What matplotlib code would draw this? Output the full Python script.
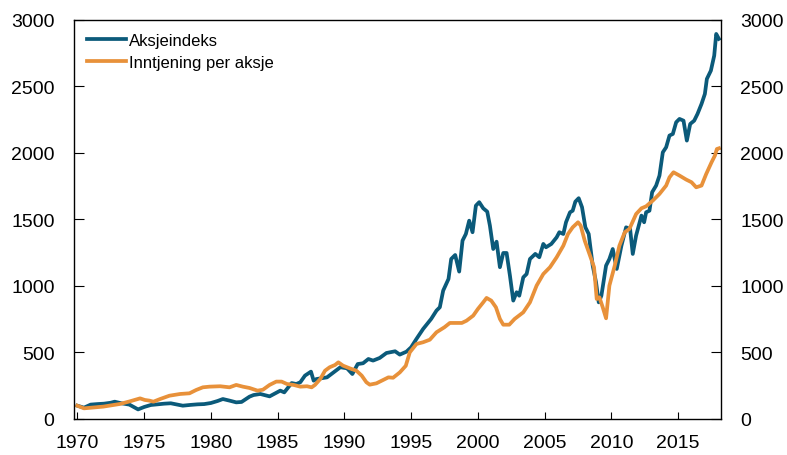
import numpy as np
import matplotlib
matplotlib.use('Agg')
import matplotlib.pyplot as plt

plt.rcParams['font.family'] = ['Liberation Sans', 'DejaVu Sans']

# Aksjeindeks (1970 = 100)
idx_years = [1970.0, 1970.5, 1971.0, 1971.5, 1972.0, 1972.5, 1972.8, 1973.3, 1973.9, 1974.55,
             1975.0, 1975.5, 1976.0, 1976.5, 1977.0, 1977.5, 1977.9, 1978.5, 1979.0, 1979.5,
             1980.0, 1980.5, 1980.9, 1981.4, 1981.9, 1982.3, 1982.9, 1983.2, 1983.7, 1984.4,
             1985.2, 1985.5, 1986.05, 1986.4, 1986.7, 1987.05, 1987.5, 1987.7, 1987.9, 1988.7,
             1989.2, 1989.7, 1990.2, 1990.6, 1991.0, 1991.4, 1991.8, 1992.15, 1992.65, 1993.15,
             1993.8, 1994.15, 1994.65, 1995.0, 1995.4, 1995.9, 1996.5, 1996.9, 1997.15, 1997.4,
             1997.8, 1998.0, 1998.3, 1998.6, 1998.85, 1999.1, 1999.35, 1999.6, 1999.85, 2000.1,
             2000.4, 2000.7, 2000.9, 2001.15, 2001.4, 2001.65, 2001.9, 2002.15, 2002.4, 2002.65,
             2002.9, 2003.1, 2003.4, 2003.65, 2003.9, 2004.3, 2004.6, 2004.9, 2005.1, 2005.5,
             2005.9, 2006.1, 2006.4, 2006.6, 2006.9, 2007.1, 2007.3, 2007.55, 2007.8, 2008.05,
             2008.3, 2008.6, 2008.85, 2009.05, 2009.25, 2009.6, 2009.85, 2010.1, 2010.4, 2010.75,
             2011.1, 2011.4, 2011.6, 2011.85, 2012.25, 2012.45, 2012.6, 2012.85, 2013.05, 2013.35,
             2013.6, 2013.85, 2014.1, 2014.35, 2014.6, 2014.85, 2015.1, 2015.4, 2015.65, 2015.9,
             2016.2, 2016.45, 2016.75, 2017.0, 2017.15, 2017.45, 2017.7, 2017.85, 2018.05]
idx_vals = [100, 85, 108, 112, 115, 122, 130, 118, 108, 72,
            90, 105, 110, 115, 118, 108, 100, 106, 110, 112,
            120, 135, 150, 138, 125, 128, 168, 180, 188, 170,
            213, 200, 270, 263, 276, 326, 356, 288, 300, 313,
            351, 389, 381, 338, 413, 419, 451, 439, 459, 496,
            509, 484, 506, 539, 602, 677, 752, 815, 840, 965,
            1053, 1203, 1233, 1108, 1341, 1391, 1491, 1404, 1604, 1630,
            1584, 1559, 1454, 1278, 1333, 1141, 1248, 1248, 1078, 890,
            953, 927, 1065, 1090, 1203, 1241, 1216, 1316, 1291, 1316,
            1366, 1404, 1391, 1479, 1554, 1566, 1634, 1660, 1592, 1441,
            1391, 1153, 1028, 877, 927, 1153, 1203, 1278, 1128, 1303,
            1441, 1429, 1241, 1379, 1529, 1479, 1554, 1566, 1705, 1755,
            1830, 2005, 2043, 2131, 2143, 2231, 2256, 2243, 2093, 2218,
            2243, 2294, 2369, 2444, 2557, 2619, 2732, 2895, 2858]

# Inntjening per aksje (1970 = 100)
eps_years = [1970.0, 1970.5, 1971.95, 1973.2, 1973.95, 1974.7, 1975.05, 1975.4, 1975.7, 1976.2,
             1976.9, 1977.7, 1978.4, 1978.9, 1979.4, 1979.9, 1980.7, 1981.4, 1981.9, 1982.4,
             1982.9, 1983.5, 1983.9, 1984.4, 1984.9, 1985.3, 1985.7, 1986.2, 1986.7, 1987.2,
             1987.55, 1987.8, 1988.2, 1988.55, 1988.9, 1989.3, 1989.55, 1989.9, 1990.4, 1990.9,
             1991.3, 1991.65, 1991.9, 1992.4, 1992.9, 1993.3, 1993.65, 1994.15, 1994.6, 1994.9,
             1995.4, 1995.9, 1996.4, 1996.9, 1997.5, 1997.9, 1998.3, 1998.8, 1999.15, 1999.65,
             2000.0, 2000.4, 2000.65, 2001.0, 2001.35, 2001.65, 2001.9, 2002.35, 2002.75, 2003.4,
             2003.9, 2004.4, 2004.9, 2005.4, 2005.9, 2006.4, 2006.75, 2007.1, 2007.5, 2007.7,
             2008.0, 2008.4, 2008.7, 2008.9, 2009.1, 2009.35, 2009.6, 2009.85, 2010.25, 2010.6,
             2011.0, 2011.35, 2011.85, 2012.25, 2012.6, 2013.1, 2013.6, 2014.1, 2014.35, 2014.65,
             2015.1, 2015.6, 2016.0, 2016.35, 2016.75, 2017.1, 2017.5, 2017.75, 2017.9, 2018.05]
eps_vals = [100, 80, 93, 113, 133, 155, 143, 138, 130, 150,
            175, 188, 193, 218, 238, 243, 246, 238, 256, 243,
            233, 213, 220, 256, 281, 281, 263, 256, 243, 246,
            238, 256, 301, 363, 389, 406, 426, 401, 381, 363,
            326, 276, 258, 268, 293, 313, 310, 350, 400, 501,
            564, 577, 596, 652, 690, 722, 722, 722, 739, 777,
            827, 877, 910, 890, 840, 752, 709, 709, 752, 802,
            877, 1003, 1090, 1141, 1216, 1303, 1391, 1441, 1479, 1454,
            1341, 1228, 1141, 902, 915, 840, 757, 1003, 1153, 1303,
            1404, 1429, 1541, 1584, 1599, 1642, 1692, 1755, 1817, 1855,
            1830, 1800, 1780, 1742, 1755, 1842, 1930, 1980, 2030, 2035]

blue = '#0b5a7a'
orange = '#e8913a'

fig = plt.figure(figsize=(7.87, 4.56), dpi=100)
ax = fig.add_axes([0.094, 0.079, 0.822, 0.875])

ax.plot(idx_years, idx_vals, color=blue, lw=2.7, label='Aksjeindeks')
ax.plot(eps_years, eps_vals, color=orange, lw=2.7, label='Inntjening per aksje')

ax.set_xlim(1969.75, 2018.2)
ax.set_ylim(0, 3000)
ax.set_xticks(np.arange(1970, 2016, 5))
ax.set_yticks(np.arange(0, 3001, 500))

ax.tick_params(axis='y', direction='in', length=7, left=True, right=True,
               labelleft=True, labelright=True, labelsize=14, pad=14)
ax.tick_params(axis='x', direction='in', length=5, labelsize=14, pad=11)
for s in ax.spines.values():
    s.set_linewidth(1.0)

ax.legend(loc='upper left', frameon=False, fontsize=12, handlelength=2.3,
          handletextpad=0.2, borderaxespad=0.4, labelspacing=0.4)

plt.savefig('out.png', dpi=100)
